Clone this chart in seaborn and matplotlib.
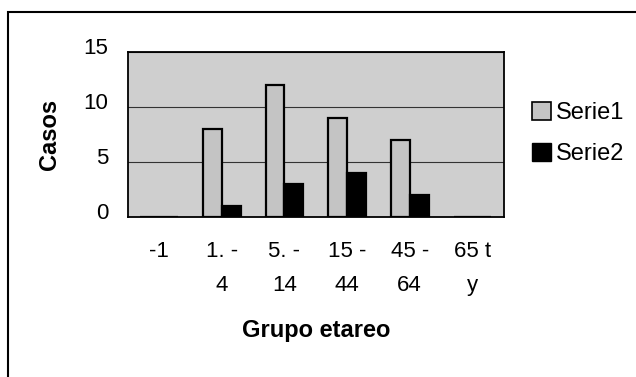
import matplotlib
matplotlib.use("Agg")
import matplotlib.pyplot as plt
import matplotlib.transforms as mtransforms
from matplotlib.patches import Patch, Rectangle
import seaborn as sns
import pandas as pd

categorias = ["-1", "1. -\n4", "5. -\n14", "15 -\n44", "45 -\n64", "65 t\ny"]
serie1 = [0, 8, 12, 9, 7, 0]
serie2 = [0, 1, 3, 4, 2, 0]
ticks_y = [0, 5, 10, 15]

df = pd.DataFrame({
    "Grupo": categorias * 2,
    "Casos": serie1 + serie2,
    "Serie": ["Serie1"] * len(categorias) + ["Serie2"] * len(categorias),
})

sns.set_theme(style="white")
plt.rcParams["font.family"] = ["Liberation Sans", "DejaVu Sans"]
plt.rcParams["text.color"] = "black"
plt.rcParams["axes.labelcolor"] = "black"
plt.rcParams["xtick.color"] = "black"
plt.rcParams["ytick.color"] = "black"

fig = plt.figure(figsize=(6.36, 3.77), dpi=100)
ax = fig.add_axes([0.201, 0.424, 0.591, 0.438])
ax.set_facecolor("#cfcfcf")

colores = {"Serie1": "#c4c4c4", "Serie2": "#000000"}
sns.barplot(data=df, x="Grupo", y="Casos", hue="Serie", palette=colores,
            width=0.6, gap=0, edgecolor="black", linewidth=1.6,
            legend=False, ax=ax, zorder=3)

ax.set_ylim(0, 15)
ax.set_yticks(ticks_y)
ax.yaxis.grid(True, color="#333333", linewidth=0.8, zorder=1)
ax.set_axisbelow(True)
for s in ax.spines.values():
    s.set_color("black")
    s.set_linewidth(1.3)

ax.tick_params(axis="y", length=0, pad=14, labelsize=16)
ax.tick_params(axis="x", length=0, pad=17, labelsize=16)
offset = mtransforms.ScaledTranslation(0, 6 / 100, fig.dpi_scale_trans)
for lbl in ax.get_yticklabels():
    lbl.set_transform(lbl.get_transform() + offset)
for lbl in ax.get_xticklabels():
    lbl.set_linespacing(1.85)
    lbl.set_verticalalignment("top")

ax.set_xlabel("Grupo etareo", fontsize=17, fontweight="bold", labelpad=16)
ax.set_ylabel("Casos", fontsize=17, fontweight="bold", labelpad=16)

handles = [Patch(facecolor=colores["Serie1"], edgecolor="black", linewidth=1.2, label="Serie1"),
           Patch(facecolor=colores["Serie2"], edgecolor="black", label="Serie2")]
fig.legend(handles=handles, loc="upper left", bbox_to_anchor=(0.822, 0.755),
           frameon=False, fontsize=17, handlelength=0.8, handleheight=0.8,
           handletextpad=0.2, labelspacing=0.8, borderaxespad=0)

# outer chart frame
fig.patches.append(Rectangle((8 / 636, -0.05), 1.0, 1 - 12 / 377 + 0.05,
                             transform=fig.transFigure, fill=False,
                             edgecolor="black", linewidth=1.5))

fig.savefig("out.png", dpi=100, facecolor="white")
